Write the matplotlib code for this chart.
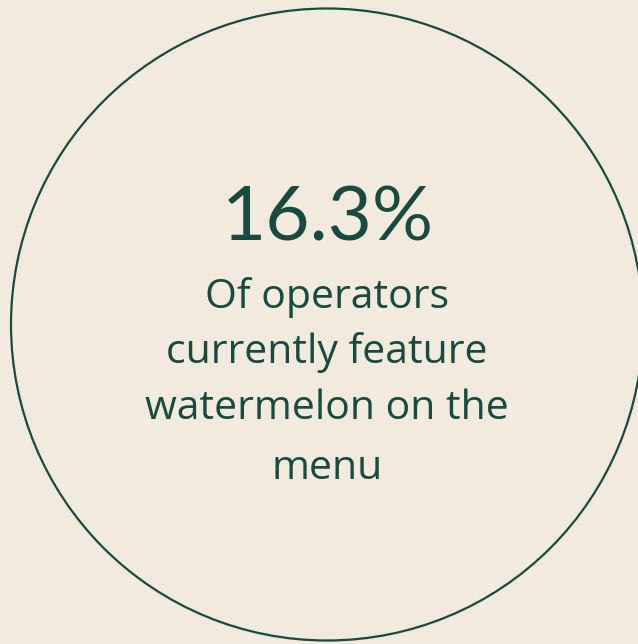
import matplotlib
matplotlib.use("Agg")
import matplotlib.pyplot as plt
from matplotlib.patches import Circle

# Headline figure and its caption lines
share_value = 16.3
caption_lines = ["Of operators", "currently feature", "watermelon on the", "menu"]

BG = "#F2EADC"
INK = "#184A40"

W, H = 638, 644
fig = plt.figure(figsize=(W / 100, H / 100), dpi=100, facecolor=BG)
ax = fig.add_axes([0, 0, 1, 1])
ax.set_xlim(0, W)
ax.set_ylim(H, 0)
ax.set_aspect("equal")
ax.axis("off")
ax.set_facecolor(BG)

# Outline ring
ax.add_patch(Circle((327, 324.5), 316, fill=False, edgecolor=INK, linewidth=1.6))

ax.text(328, 240, f"{share_value:.1f}%", ha="center", va="baseline",
        fontsize=55, color=INK, family=["Lato", "DejaVu Sans"])

baselines = [308, 363, 419, 479]
for line, y in zip(caption_lines, baselines):
    ax.text(327, y, line, ha="center", va="baseline",
            fontsize=29.5, color=INK, family=["Open Sans", "DejaVu Sans"])

fig.savefig("out.png", dpi=100, facecolor=BG)
